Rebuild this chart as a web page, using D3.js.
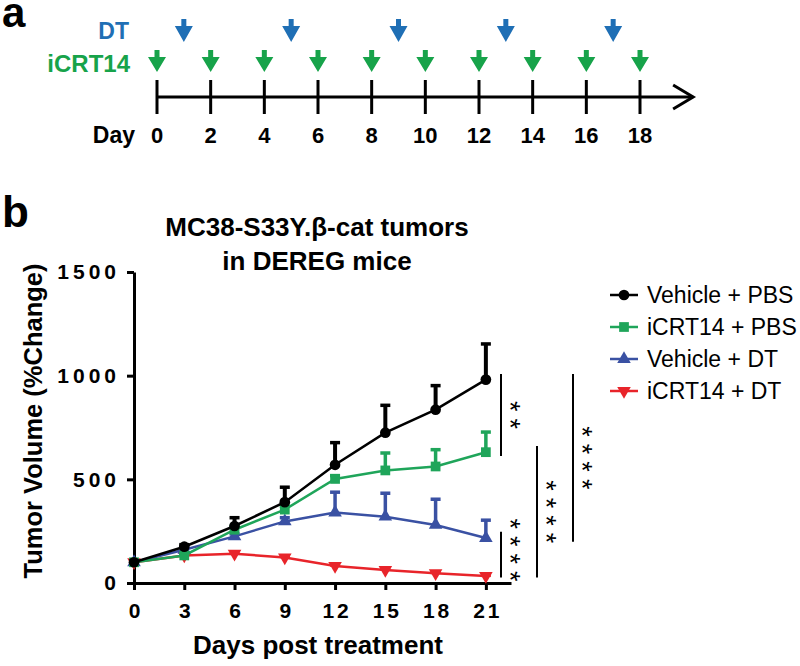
<!DOCTYPE html>
<html><head><meta charset="utf-8">
<script src="https://cdn.jsdelivr.net/npm/d3@7"></script>
<style>html,body{margin:0;padding:0;background:#fff;}</style>
</head><body>
<script>
// ---------- DATA ----------
const timelineDays = [0, 2, 4, 6, 8, 10, 12, 14, 16, 18];
const icrtDoseDays = [0, 2, 4, 6, 8, 10, 12, 14, 16, 18];
const dtDoseDays = [1, 5, 9, 13, 17];

const days = [0, 3, 6, 9, 12, 15, 18, 21];
const seriesNames = ["Vehicle + PBS", "iCRT14 + PBS", "Vehicle + DT", "iCRT14 + DT"];
const vehiclePBS = [100, 175, 275, 390, 570, 725, 836, 981];
const vehiclePBSerr = [6, 10, 40, 72, 107, 132, 116, 172];
const icrtPBS = [100, 133, 257, 354, 502, 543, 562, 631];
const icrtPBSerr = [4, 6, 12, 16, 16, 84, 81, 97];
const vehicleDT = [100, 160, 225, 297, 340, 320, 280, 217];
const vehicleDTerr = [4, 8, 12, 18, 98, 113, 124, 86];
const icrtDT = [100, 133, 141, 123, 82, 63, 47, 34];
const icrtDTerr = [3, 5, 6, 5, 5, 4, 4, 3];
const yTicks = [0, 500, 1000, 1500];
const xTicks = [0, 3, 6, 9, 12, 15, 18, 21];
// significance brackets: [from value, to value, label]
const sigFrom = [1008, 247, 661, 1008];
const sigTo = [613, 26, 26, 199];
const sigLabels = ["**", "****", "****", "****"];

// ---------- STYLE ----------
const FONT = "'Liberation Sans', Arial, Helvetica, sans-serif";
const colors = ["#000000", "#1fa55a", "#3a51a3", "#e8242a"];
const symbols = [d3.symbolCircle, d3.symbolSquare, d3.symbolTriangle, d3.symbolTriangle];
const symRot = [0, 0, 0, 180];
const symSize = [90, 95, 80, 80];

const svg = d3.select("body").append("svg").attr("width", 800).attr("height", 666)
  .style("font-family", FONT);
svg.append("rect").attr("width", 800).attr("height", 666).attr("fill", "#fff");

// ---------- PANEL A : timeline ----------
svg.append("text").attr("x", 2).attr("y", 27).attr("font-size", 42).attr("font-weight", "bold").text("a");
const tl = d3.scaleLinear().domain([0, 18]).range([157, 640]);
const gA = svg.append("g");
gA.append("line").attr("x1", tl(0)).attr("x2", tl(19.98)).attr("y1", 97).attr("y2", 97)
  .attr("stroke", "#000").attr("stroke-width", 3);
gA.append("path").attr("d", `M${tl(19.98)-20},85 L${tl(19.98)},97 L${tl(19.98)-20},109`)
  .attr("fill", "none").attr("stroke", "#000").attr("stroke-width", 3);
gA.selectAll(".tk").data(timelineDays).join("line")
  .attr("x1", d => tl(d)).attr("x2", d => tl(d)).attr("y1", 80).attr("y2", 114)
  .attr("stroke", "#000").attr("stroke-width", 3);
gA.selectAll(".tl").data(timelineDays).join("text")
  .attr("x", d => tl(d)).attr("y", 143).attr("text-anchor", "middle")
  .attr("font-size", 22).attr("font-weight", "bold").text(d => d);
gA.append("text").attr("x", 135).attr("y", 143).attr("text-anchor", "end")
  .attr("font-size", 23).attr("font-weight", "bold").text("Day");
gA.append("text").attr("x", 129).attr("y", 39).attr("text-anchor", "end")
  .attr("font-size", 23).attr("font-weight", "bold").attr("fill", "#1f6fb5").text("DT");
gA.append("text").attr("x", 130).attr("y", 72).attr("text-anchor", "end")
  .attr("font-size", 24).attr("font-weight", "bold").attr("fill", "#17a34a").text("iCRT14");
function arrowPath(x, top, stemH, headH, stemW, headW) {
  return `M${x-stemW/2},${top} L${x+stemW/2},${top} L${x+stemW/2},${top+stemH} L${x+headW/2},${top+stemH} L${x},${top+stemH+headH} L${x-headW/2},${top+stemH} L${x-stemW/2},${top+stemH} Z`;
}
gA.selectAll(".ga").data(icrtDoseDays).join("path")
  .attr("d", d => arrowPath(tl(d), 50, 7, 15, 5, 18)).attr("fill", "#17a34a");
gA.selectAll(".ba").data(dtDoseDays).join("path")
  .attr("d", d => arrowPath(tl(d), 19, 7, 16, 5, 18)).attr("fill", "#1f6fb5");

// ---------- PANEL B ----------
svg.append("text").attr("x", 2).attr("y", 227).attr("font-size", 44).attr("font-weight", "bold").text("b");
const x = d3.scaleLinear().domain([0, 22.5]).range([134, 511]);
const y = d3.scaleLinear().domain([0, 1500]).range([583, 272]);

const gX = svg.append("g").attr("transform", "translate(0,583)")
  .call(d3.axisBottom(x).tickValues(xTicks).tickSize(7).tickSizeOuter(0).tickPadding(13));
gX.select(".domain").attr("stroke-width", 3);
gX.selectAll(".tick line").attr("stroke-width", 3);
gX.selectAll("text").attr("font-size", 21).attr("font-weight", "bold").attr("font-family", FONT)
  .attr("fill", "#000").style("letter-spacing", "3px").attr("dx", "1.5");

const gY = svg.append("g").attr("transform", "translate(134,0)")
  .call(d3.axisLeft(y).tickValues(yTicks).tickFormat(d3.format("d")).tickSize(7).tickSizeOuter(0).tickPadding(11));
gY.select(".domain").attr("stroke-width", 3);
gY.selectAll(".tick line").attr("stroke-width", 3);
gY.selectAll("text").attr("font-size", 21).attr("font-weight", "bold").attr("font-family", FONT)
  .attr("fill", "#000").style("letter-spacing", "4px").attr("dx", "4");

svg.append("text").attr("x", 317).attr("y", 236).attr("text-anchor", "middle")
  .attr("font-size", 26).attr("font-weight", "bold").text("MC38-S33Y.β-cat tumors");
svg.append("text").attr("x", 317).attr("y", 270).attr("text-anchor", "middle")
  .attr("font-size", 26).attr("font-weight", "bold").text("in DEREG mice");
svg.append("text").attr("transform", "translate(42,421) rotate(-90)").attr("text-anchor", "middle")
  .attr("font-size", 25.5).attr("font-weight", "bold").text("Tumor Volume (%Change)");
svg.append("text").attr("x", 318).attr("y", 654).attr("text-anchor", "middle")
  .attr("font-size", 26).attr("font-weight", "bold").text("Days post treatment");

const allVals = [vehiclePBS, icrtPBS, vehicleDT, icrtDT];
const allErr = [vehiclePBSerr, icrtPBSerr, vehicleDTerr, icrtDTerr];
const line = d3.line().x(d => x(d[0])).y(d => y(d[1]));
const order = [3, 2, 1, 0];
order.forEach(i => {
  const pts = days.map((d, j) => [d, allVals[i][j], allErr[i][j]]);
  const g = svg.append("g");
  g.append("path").attr("d", line(pts)).attr("fill", "none").attr("stroke", colors[i]).attr("stroke-width", 2.5);
  const eb = g.selectAll(".eb").data(pts).join("g");
  const ew = i === 0 ? 4 : 3.5;
  eb.append("line").attr("x1", d => x(d[0])).attr("x2", d => x(d[0]))
    .attr("y1", d => y(d[1])).attr("y2", d => y(d[1] + d[2])).attr("stroke", colors[i]).attr("stroke-width", ew);
  eb.append("line").attr("x1", d => x(d[0]) - 5).attr("x2", d => x(d[0]) + 5)
    .attr("y1", d => y(d[1] + d[2])).attr("y2", d => y(d[1] + d[2])).attr("stroke", colors[i]).attr("stroke-width", 3.5);
  g.selectAll(".m").data(pts).join("path")
    .attr("d", d3.symbol().type(symbols[i]).size(symSize[i]))
    .attr("transform", d => `translate(${x(d[0])},${y(d[1])}) rotate(${symRot[i]})`)
    .attr("fill", colors[i]);
});

// significance brackets
const sigX = [501, 501, 537, 573];
sigFrom.forEach((f, k) => {
  svg.append("line").attr("x1", sigX[k]).attr("x2", sigX[k]).attr("y1", y(f)).attr("y2", y(sigTo[k]))
    .attr("stroke", "#000").attr("stroke-width", 2);
  const mid = k === 1 ? 550 : (y(f) + y(sigTo[k])) / 2;
  svg.append("text").attr("transform", `translate(${sigX[k]},${mid}) rotate(90)`)
    .attr("text-anchor", "middle").attr("font-size", 27).style("letter-spacing", "7px")
    .attr("dx", 3.5).attr("dy", 0).text(sigLabels[k]);
});

// legend
const lg = svg.append("g");
seriesNames.forEach((name, i) => {
  const ly = 295 + i * 32;
  lg.append("line").attr("x1", 610).attr("x2", 638).attr("y1", ly).attr("y2", ly)
    .attr("stroke", colors[i]).attr("stroke-width", 2.5);
  lg.append("path").attr("d", d3.symbol().type(symbols[i]).size(symSize[i]))
    .attr("transform", `translate(624,${ly}) rotate(${symRot[i]})`).attr("fill", colors[i]);
  lg.append("text").attr("x", 647).attr("y", ly + 8).attr("font-size", 23).text(name);
});
</script>
</body></html>
